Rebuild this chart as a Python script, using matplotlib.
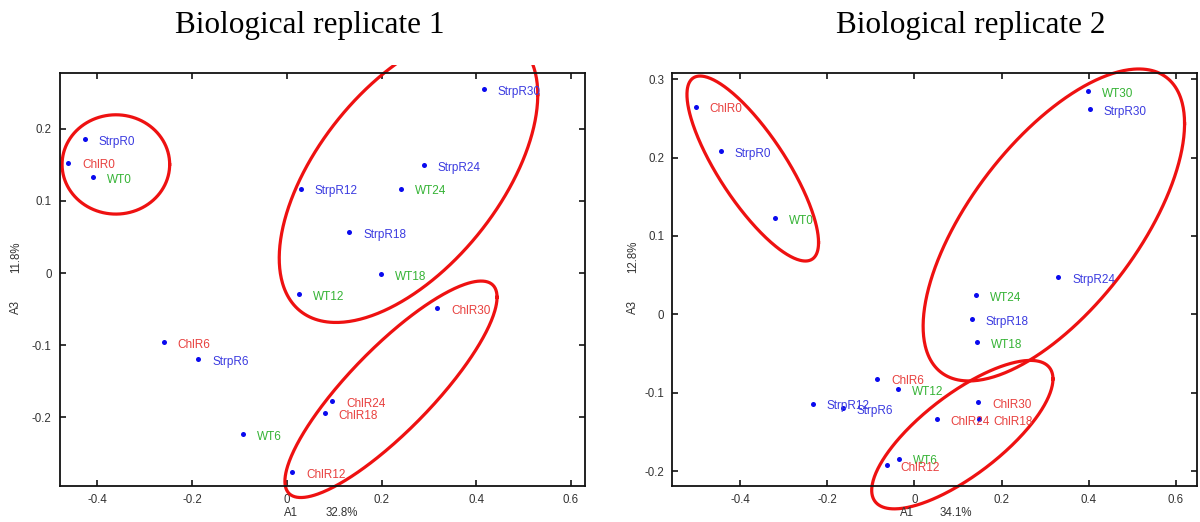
import numpy as np
import matplotlib
matplotlib.use("Agg")
import matplotlib.pyplot as plt
from matplotlib.patches import Rectangle

plt.rcParams['axes.unicode_minus'] = False
plt.rcParams['font.family'] = ['Liberation Sans', 'DejaVu Sans']

# ---------------- data ----------------
titles = ["Biological replicate 1", "Biological replicate 2"]
x_pct = ["32.8%", "34.1%"]
y_pct = ["11.8%", "12.8%"]

labels1 = ["StrpR0", "ChlR0", "WT0", "StrpR30", "StrpR24", "StrpR12", "WT24",
           "StrpR18", "WT18", "WT12", "ChlR30", "ChlR6", "StrpR6", "ChlR24",
           "ChlR18", "WT6", "ChlR12"]
a1_rep1 = [-0.426, -0.462, -0.410, 0.416, 0.289, 0.029, 0.241,
           0.132, 0.199, 0.026, 0.318, -0.260, -0.187, 0.096,
           0.080, -0.093, 0.011]
a3_rep1 = [0.186, 0.153, 0.133, 0.255, 0.150, 0.117, 0.117,
           0.057, -0.001, -0.029, -0.048, -0.096, -0.119, -0.177,
           -0.194, -0.223, -0.276]

labels2 = ["ChlR0", "StrpR0", "WT0", "WT30", "StrpR30", "StrpR24", "WT24",
           "StrpR18", "WT18", "ChlR6", "WT12", "ChlR30", "StrpR12", "StrpR6",
           "ChlR24", "ChlR18", "WT6", "ChlR12"]
a1_rep2 = [-0.502, -0.444, -0.320, 0.399, 0.403, 0.330, 0.141,
           0.132, 0.144, -0.085, -0.037, 0.146, -0.233, -0.165,
           0.051, 0.149, -0.036, -0.063]
a3_rep2 = [0.265, 0.208, 0.123, 0.285, 0.262, 0.047, 0.025,
           -0.006, -0.035, -0.082, -0.095, -0.112, -0.114, -0.120,
           -0.134, -0.134, -0.184, -0.192]

xticks = [-0.4, -0.2, 0, 0.2, 0.4, 0.6]
xticklabels = ["-0.4", "-0.2", "0", "0.2", "0.4", "0.6"]
yticks1 = [-0.2, -0.1, 0, 0.1, 0.2]
yticklabels1 = ["-0.2", "-0.1", "0", "0.1", "0.2"]
yticks2 = [-0.2, -0.1, 0, 0.1, 0.2, 0.3]
yticklabels2 = ["-0.2", "-0.1", "0", "0.1", "0.2", "0.3"]

# group ellipses: centre (A1, A3), half-extent along A1, half-extent along A3, correlation
ell1_cx = [-0.361, 0.257, 0.220]
ell1_cy = [0.1506, 0.134, -0.161]
ell1_rx = [0.1136, 0.273, 0.224]
ell1_ry = [0.0688, 0.2024, 0.150]
ell1_rho = [0.0, 0.56, 0.85]

ell2_cx = [-0.371, 0.320, 0.110]
ell2_cy = [0.186, 0.114, -0.1535]
ell2_rx = [0.151, 0.300, 0.208]
ell2_ry = [0.118, 0.199, 0.0947]
ell2_rho = [-0.80, 0.65, 0.75]

# ---------------- styling ----------------
text_colors = {"StrpR": "#3b3be0", "ChlR": "#e8403e", "WT": "#35b335"}
dot_color = "#0a0aee"
ell_color = "#ee1111"

def color_for(lbl):
    for k, c in text_colors.items():
        if lbl.startswith(k):
            return c
    return "k"

fig = plt.figure(figsize=(12, 5.22), dpi=100)
ax1 = fig.add_axes([0.05, 0.069, 0.4372, 0.7921])
ax2 = fig.add_axes([0.5603, 0.069, 0.4370, 0.7921])

panels = [
    (ax1, labels1, a1_rep1, a3_rep1, (-0.479, 0.629), (-0.295, 0.278),
     yticks1, yticklabels1, ell1_cx, ell1_cy, ell1_rx, ell1_ry, ell1_rho,
     (-0.084, 0.440, 0.5375)),
    (ax2, labels2, a1_rep2, a3_rep2, (-0.5555, 0.648), (-0.219, 0.3085),
     yticks2, yticklabels2, ell2_cx, ell2_cy, ell2_rx, ell2_ry, ell2_rho,
     (-0.0755, 0.4466, 0.5406)),
]

t = np.linspace(0, 2 * np.pi, 400)
for i, (ax, labs, xs, ys, xl, yl, yt, ytl, ecx, ecy, erx, ery, erho, lpos) in enumerate(panels):
    ax.set_xlim(*xl)
    ax.set_ylim(*yl)
    ax.set_xticks(xticks)
    ax.set_xticklabels(xticklabels)
    ax.set_yticks(yt)
    ax.set_yticklabels(ytl)
    ax.tick_params(direction='in', length=4, width=1.1, top=True, right=True,
                   labelsize=8.3, labelcolor='#333333', pad=6)
    for sp in ax.spines.values():
        sp.set_linewidth(1.3)
        sp.set_color('#111111')

    ax.scatter(xs, ys, s=13, color=dot_color, zorder=3, linewidths=0)

    clip_rect = Rectangle((-0.5, -0.5), 2.0, 1.5 + 0.018, transform=ax.transAxes)
    for cx, cy, rx, ry, rho in zip(ecx, ecy, erx, ery, erho):
        ex = cx + rx * np.cos(t)
        ey = cy + ry * (rho * np.cos(t) + np.sqrt(1 - rho ** 2) * np.sin(t))
        ln, = ax.plot(ex, ey, color=ell_color, lw=2.3, zorder=2)
        ln.set_clip_path(clip_rect)

    for lbl, x, y in zip(labs, xs, ys):
        ax.annotate(lbl, (x, y), xytext=(10, -2), textcoords='offset points',
                    ha='left', va='center', fontsize=8.5, color=color_for(lbl),
                    zorder=4)

    yx, ax_a1, ax_pct = lpos
    ax.text(yx, 0.432, "A3", transform=ax.transAxes, rotation=90,
            ha='center', va='center', fontsize=8.3, color='#333333')
    ax.text(yx, 0.554, y_pct[i], transform=ax.transAxes, rotation=90,
            ha='center', va='center', fontsize=8.3, color='#333333')
    ax.text(ax_a1, -0.065, "A1", transform=ax.transAxes,
            ha='center', va='center', fontsize=8.3, color='#333333')
    ax.text(ax_pct, -0.065, x_pct[i], transform=ax.transAxes,
            ha='center', va='center', fontsize=8.3, color='#333333')

fig.text(310 / 1200, 1 - 25 / 522, titles[0], ha='center', va='center',
         fontsize=22.5, family=['Liberation Serif', 'DejaVu Serif'])
fig.text(971 / 1200, 1 - 25 / 522, titles[1], ha='center', va='center',
         fontsize=22.5, family=['Liberation Serif', 'DejaVu Serif'])

fig.savefig("out.png", dpi=100)
